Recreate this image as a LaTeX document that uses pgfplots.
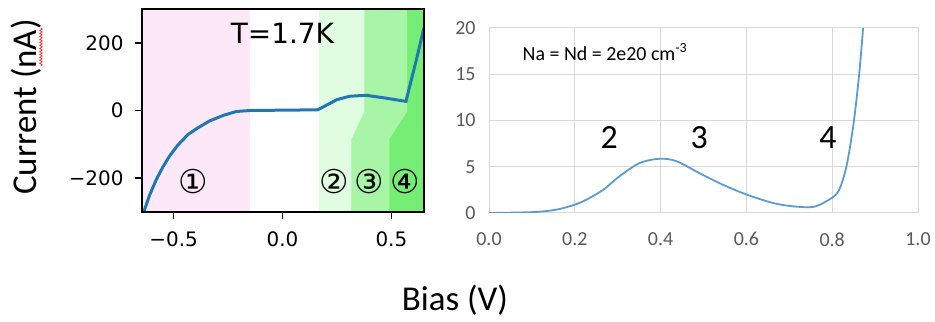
\documentclass[border=0pt]{standalone}
\usepackage{pgfplots}
\pgfplotsset{compat=1.18}
\usepackage{fontspec}
\setmainfont{DejaVu Sans}
\newfontfamily\dejavu{DejaVu Sans}
\newfontfamily\calibri{Carlito}
\usetikzlibrary{decorations.pathmorphing}
\definecolor{pinkbg}{RGB}{253,232,248}
\definecolor{lgreen}{RGB}{225,253,225}
\definecolor{mgreen}{RGB}{168,245,168}
\definecolor{dgreen}{RGB}{118,238,118}
\definecolor{mplblue}{RGB}{31,119,180}
\definecolor{xlblue}{RGB}{91,155,213}
\definecolor{gridgray}{RGB}{217,217,217}
\definecolor{tickgray}{RGB}{89,89,89}
\begin{document}
\begin{tikzpicture}
\useasboundingbox (0bp,0bp) rectangle (935bp,322bp);
% left axis
\begin{axis}[at={(142bp,110bp)}, anchor=south west, width=282bp, height=203bp, scale only axis,
  xmin=-0.645, xmax=0.65, ymin=-300, ymax=300,
  xtick={-0.5,0,0.5}, xticklabels={−0.5,0.0,0.5},
  ytick={-200,0,200}, yticklabels={−200,0,200},
  tick align=outside, xtick pos=left, ytick pos=left,
  major tick length=7bp,
  every tick/.style={black, line width=1.5bp},
  axis line style={line width=1.6bp},
  ticklabel style={font=\dejavu\fontsize{20}{24}\selectfont},
  xticklabel style={yshift=-9bp}, yticklabel style={xshift=-8bp},
  axis on top]
\addplot[fill=pinkbg, draw=none] coordinates {(-0.7,-320) (-0.15,-320) (-0.15,320) (-0.7,320)};
\addplot[fill=lgreen, draw=none] coordinates {(0.17,-320) (0.7,-320) (0.7,320) (0.17,320)};
\addplot[fill=mgreen, draw=none] coordinates {(0.317,-320) (0.7,-320) (0.7,320) (0.376,320) (0.376,-3) (0.317,-85)};
\addplot[fill=dgreen, draw=none] coordinates {(0.491,-320) (0.7,-320) (0.7,320) (0.573,320) (0.573,-3) (0.491,-85)};
\addplot[mplblue, line width=3bp] coordinates {
(-0.637,-300) (-0.61,-250) (-0.58,-205) (-0.55,-168) (-0.518,-134) (-0.48,-102)
(-0.434,-71) (-0.39,-52) (-0.335,-31) (-0.27,-14) (-0.212,-3) (-0.15,0)
(0.162,2) (0.2,15) (0.25,32) (0.307,42) (0.384,45) (0.47,37) (0.567,27)
(0.59,86) (0.615,150) (0.65,245)};
\node[font=\dejavu\fontsize{28}{30}\selectfont] at (axis cs:0,229) {T=1.7K};
\node[font=\dejavu\fontsize{33}{35}\selectfont] at (axis cs:-0.41,-211) {①};
\node[font=\dejavu\fontsize{33}{35}\selectfont] at (axis cs:0.239,-211) {②};
\node[font=\dejavu\fontsize{33}{35}\selectfont] at (axis cs:0.40,-211) {③};
\node[font=\dejavu\fontsize{33}{35}\selectfont] at (axis cs:0.564,-211) {④};
\end{axis}
% right axis
\begin{axis}[at={(489bp,109bp)}, anchor=south west, width=429bp, height=185bp, scale only axis,
  xmin=0, xmax=1, ymin=0, ymax=20,
  xtick={0,0.2,0.4,0.6,0.8,1}, xticklabels={0.0,0.2,0.4,0.6,0.8,1.0},
  ytick={0,5,10,15,20}, yticklabels={0,5,10,15,20},
  grid=major, grid style={draw=gridgray, line width=1bp},
  axis line style={draw=gridgray, line width=1bp},
  major tick length=0,
  ticklabel style={font=\calibri\fontsize{20}{24}\selectfont, text=tickgray},
  xticklabel style={yshift=-16bp}, yticklabel style={xshift=-10bp}]
\addplot[xlblue, line width=1.8bp, smooth] coordinates {
(0,0) (0.103,0.1) (0.157,0.36) (0.2,0.9) (0.227,1.44) (0.266,2.5) (0.305,4.0)
(0.351,5.4) (0.398,5.87) (0.437,5.6) (0.491,4.3) (0.545,3.06) (0.6,2.0)
(0.662,1.08) (0.709,0.72) (0.755,0.65) (0.786,1.26) (0.814,2.3) (0.833,5.0)
(0.849,9.4) (0.86,13.7) (0.866,16.6) (0.872,20)};
\node[font=\calibri\fontsize{20}{24}\selectfont, anchor=west, inner sep=0] at (axis cs:0.078,17.4) {Na = Nd = 2e20 cm\textsuperscript{-3}};
\node[font=\calibri\fontsize{34}{36}\selectfont] at (axis cs:0.28,8.2) {2};
\node[font=\calibri\fontsize{34}{36}\selectfont] at (axis cs:0.49,8.2) {3};
\node[font=\calibri\fontsize{34}{36}\selectfont] at (axis cs:0.79,8.2) {4};
\end{axis}
\node[font=\calibri\fontsize{35}{38}\selectfont, rotate=90] at (26bp,215bp) {Current (nA)};
\draw[red!80, line width=0.8bp, decorate, decoration={snake, amplitude=1.2bp, segment length=3bp}] (41bp,294bp) -- (41bp,256bp);
\node[font=\calibri\fontsize{35}{38}\selectfont] at (455bp,22bp) {Bias (V)};
\end{tikzpicture}
\end{document}
